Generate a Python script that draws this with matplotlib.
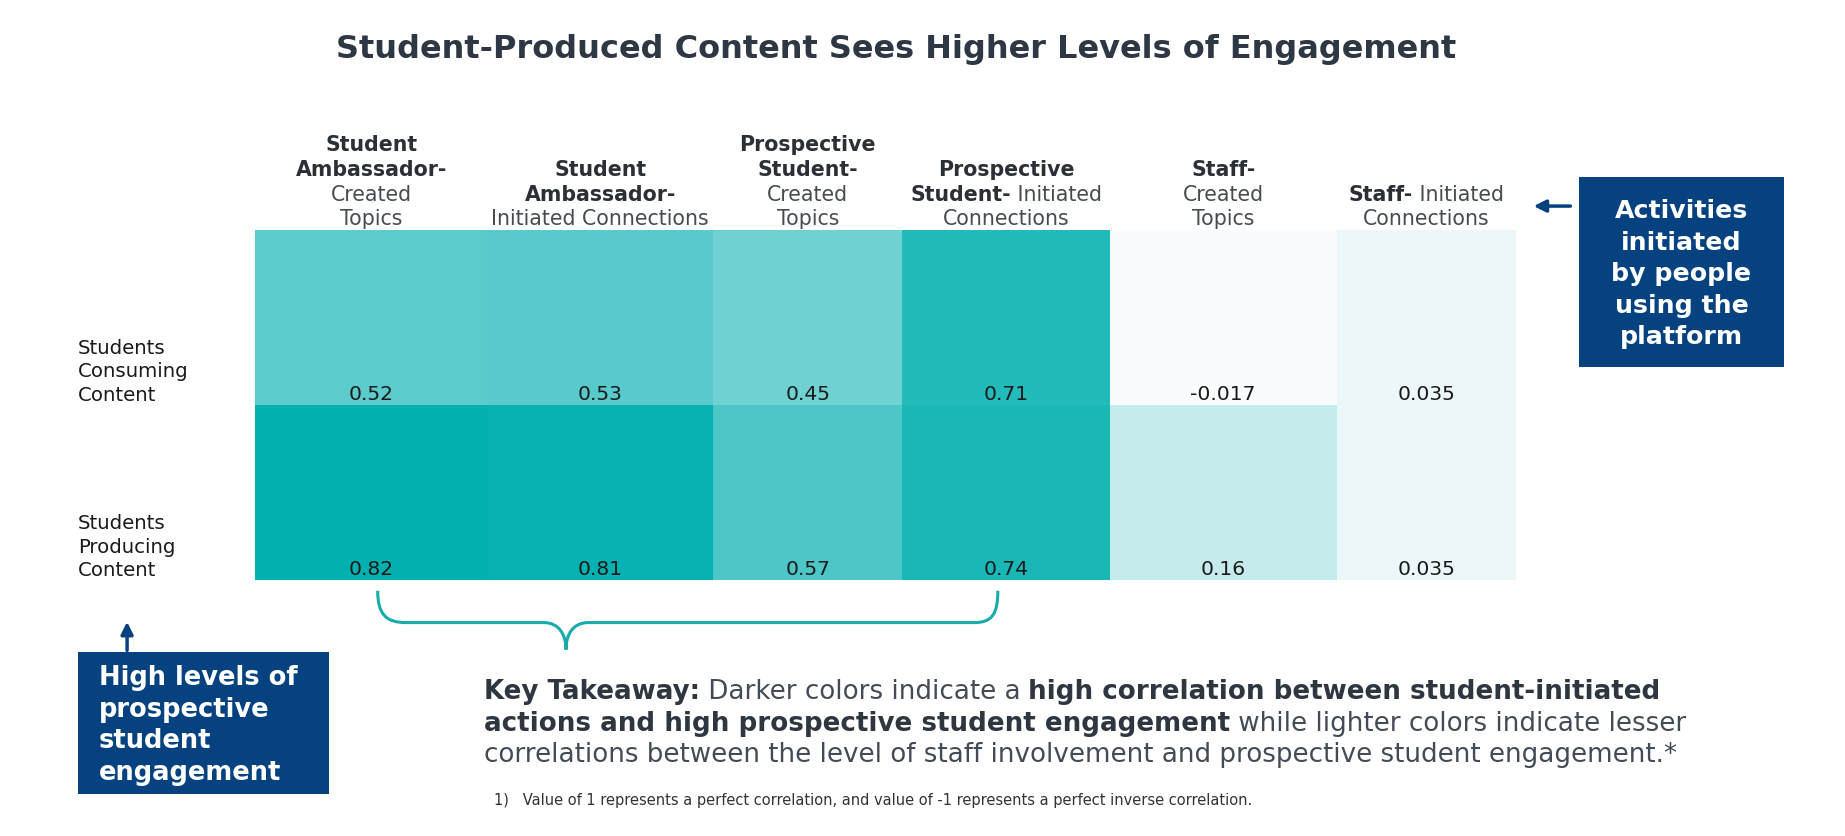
import matplotlib
matplotlib.use("Agg")
import matplotlib.pyplot as plt
import numpy as np
from matplotlib.colors import LinearSegmentedColormap, Normalize
from matplotlib.patches import Rectangle, FancyArrowPatch, PathPatch
from matplotlib.path import Path
from matplotlib import transforms

# ---- data ----
rows = ["Students\nConsuming\nContent", "Students\nProducing\nContent"]
# column headers: list of lines, each line a list of (text, bold)
col_headers = [
    [[("Student", True)], [("Ambassador-", True)], [("Created", False)], [("Topics", False)]],
    [[("Student", True)], [("Ambassador-", True)], [("Initiated Connections", False)]],
    [[("Prospective", True)], [("Student-", True)], [("Created", False)], [("Topics", False)]],
    [[("Prospective", True)], [("Student-", True), (" Initiated", False)], [("Connections", False)]],
    [[("Staff-", True)], [("Created", False)], [("Topics", False)]],
    [[("Staff-", True), (" Initiated", False)], [("Connections", False)]],
]
consuming = [0.52, 0.53, 0.45, 0.71, -0.017, 0.035]
producing = [0.82, 0.81, 0.57, 0.74, 0.16, 0.035]
values = np.array([consuming, producing])

# ---- layout (reference pixel units, 1568 x 711 preview) ----
W, H = 1568.0, 711.4
col_edges = [217, 414, 606, 767, 943, 1136, 1288]
heat_top, heat_bot = 196, 494

fig = plt.figure(figsize=(18.45, 8.37), dpi=100)
renderer = fig.canvas.get_renderer()


def fx(x):
    return x / W


def fy(y):
    return 1 - y / H


def rich_line(x, y, parts, size, ha="center", colors=("#2b3036", "#464c52"), trans=None):
    # draws a line made of bold / regular pieces
    trans = trans or fig.transFigure
    items = []
    for txt, bold in parts:
        t = fig.text(x, y, txt, fontsize=size, fontweight="bold" if bold else "normal",
                     color=colors[0] if bold else colors[1], ha="left", va="baseline",
                     transform=trans)
        items.append(t)
    widths = [t.get_window_extent(renderer).width for t in items]
    off = -sum(widths) / 2 if ha == "center" else 0
    for t, w in zip(items, widths):
        t.set_transform(transforms.offset_copy(trans, fig, x=off, y=0, units="dots"))
        off += w


# ---- heatmap ----
ax = fig.add_axes([fx(col_edges[0]), fy(heat_bot), fx(col_edges[-1] - col_edges[0]),
                   (heat_bot - heat_top) / H])
cmap = LinearSegmentedColormap.from_list("teal", ["#FAFBFD", "#03B0B0"])
norm = Normalize(vmin=values.min(), vmax=values.max())
ax.pcolormesh(col_edges, [0, 1, 2], values, cmap=cmap, norm=norm, shading="flat")
ax.set_xlim(col_edges[0], col_edges[-1])
ax.set_ylim(2, 0)
ax.axis("off")

centers = [(a + b) / 2 for a, b in zip(col_edges[:-1], col_edges[1:])]
for r in range(values.shape[0]):
    for c in range(values.shape[1]):
        ax.text(centers[c], r + 0.935, f"{values[r, c]:g}", ha="center", va="center",
                fontsize=14.6, color="#1a1a1a")

# row labels
for r, lab in enumerate(rows):
    yb = heat_top + (r + 1) * (heat_bot - heat_top) / 2
    fig.text(fx(66), fy(yb - 1), lab, ha="left", va="bottom", fontsize=14.2,
             color="#1a1a1a", linespacing=1.3)

# column headers
trans_hdr = transforms.blended_transform_factory(ax.transData, fig.transFigure)
for c, lines in enumerate(col_headers):
    n = len(lines)
    for i, parts in enumerate(lines):
        base = 191.5 - (n - 1 - i) * 21
        rich_line(centers[c], fy(base), parts, 14.8, trans=trans_hdr)

# ---- title ----
fig.text(fx(762), fy(42), "Student-Produced Content Sees Higher Levels of Engagement",
         ha="center", va="center", fontsize=23, fontweight="bold", color="#2e3844")

# ---- callout boxes ----
navy = "#05427F"
fig.add_artist(Rectangle((fx(1342), fy(313)), fx(1516 - 1342), (313 - 151) / H,
                         transform=fig.transFigure, facecolor=navy, edgecolor="none"))
fig.text(fx(1429), fy(233), "Activities\ninitiated\nby people\nusing the\nplatform",
         ha="center", va="center", fontsize=18.2, fontweight="bold", color="white",
         linespacing=1.4)
fig.add_artist(FancyArrowPatch((fx(1337), fy(176)), (fx(1301), fy(176)),
                               transform=fig.transFigure, arrowstyle="-|>",
                               mutation_scale=18, color=navy, lw=2.5))

fig.add_artist(Rectangle((fx(66), fy(676)), fx(280 - 66), (676 - 555) / H,
                         transform=fig.transFigure, facecolor=navy, edgecolor="none"))
fig.text(fx(84), fy(616.5), "High levels of\nprospective\nstudent\nengagement",
         ha="left", va="center", fontsize=18.5, fontweight="bold", color="white",
         linespacing=1.28)
fig.add_artist(FancyArrowPatch((fx(108), fy(556)), (fx(108), fy(527)),
                               transform=fig.transFigure, arrowstyle="-|>",
                               mutation_scale=18, color=navy, lw=2.5))

# ---- curly brace ----
pts = [(321, 503), (321, 523), (328, 530), (345, 530), (462, 530),
       (475, 530), (481, 540), (481, 553),
       (481, 540), (487, 530), (500, 530), (828, 530),
       (843, 530), (848, 523), (848, 503)]
codes = [Path.MOVETO, Path.CURVE4, Path.CURVE4, Path.CURVE4, Path.LINETO,
         Path.CURVE4, Path.CURVE4, Path.CURVE4,
         Path.CURVE4, Path.CURVE4, Path.CURVE4, Path.LINETO,
         Path.CURVE4, Path.CURVE4, Path.CURVE4]
brace = Path([(fx(x), fy(y)) for x, y in pts], codes)
fig.add_artist(PathPatch(brace, transform=fig.transFigure, facecolor="none",
                         edgecolor="#17ABAC", lw=2.2))

# ---- key takeaway ----
kt_cols = ("#2e3740", "#434c56")
kt_size = 18.8
rich_line(fx(411), fy(594), [("Key Takeaway:", True), (" Darker colors indicate a ", False),
                             ("high correlation between student-initiated", True)],
          kt_size, ha="left", colors=kt_cols)
rich_line(fx(411), fy(621), [("actions and high prospective student engagement", True),
                             (" while lighter colors indicate lesser", False)],
          kt_size, ha="left", colors=kt_cols)
rich_line(fx(411), fy(648), [("correlations between the level of staff involvement and "
                              "prospective student engagement.*", False)],
          kt_size, ha="left", colors=kt_cols)

fig.text(fx(420), fy(680), "1)   Value of 1 represents a perfect correlation, and value of -1 "
         "represents a perfect inverse correlation.", ha="left", va="center",
         fontsize=10.5, color="#333333")

fig.savefig("out.png", dpi=100)
